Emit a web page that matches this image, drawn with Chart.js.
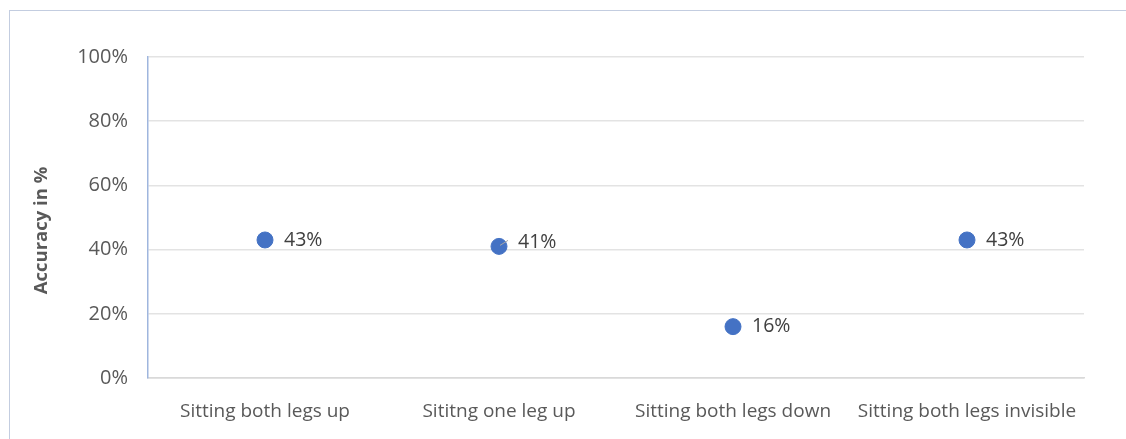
<!DOCTYPE html>
<html>
<head>
<meta charset="utf-8">
<script src="https://cdn.jsdelivr.net/npm/chart.js@4"></script>
<style>
  html, body { margin: 0; padding: 0; background: #fff; }
  #wrap { position: relative; width: 1126px; height: 439px; }
  #frame { position: absolute; left: 9px; top: 10px; right: -2px; bottom: -2px;
           border-top: 1.5px solid #c3cde0; border-left: 1.5px solid #c3cde0; }
  canvas { position: absolute; left: 0; top: 0; }
</style>
</head>
<body>
<div id="wrap">
  <div id="frame"></div>
  <canvas id="myChart" width="1126" height="439"></canvas>
</div>
<script>
const categories = ['Sitting both legs up', 'Sititng one leg up', 'Sitting both legs down', 'Sitting both legs invisible'];
const accuracy = [43, 41, 16, 43];
const yTicks = [0, 20, 40, 60, 80, 100];
const yTitle = 'Accuracy in %';

const textColor = '#595959';
const fontFamily = "'Open Sans', 'Noto Sans', sans-serif";

// value labels to the right of each point, with a short leader where the label was nudged
const pointLabels = {
    id: 'pointLabels',
    afterDatasetsDraw(chart) {
        const ctx = chart.ctx;
        const meta = chart.getDatasetMeta(0);
        ctx.save();
        ctx.font = '19.5px ' + fontFamily;
        ctx.fillStyle = '#404040';
        ctx.textBaseline = 'middle';
        meta.data.forEach((pt, i) => {
            const v = accuracy[i];
            let dy = 0;
            if (i === 1) {
                dy = -4;
                ctx.strokeStyle = '#a6a6a6';
                ctx.lineWidth = 1;
                ctx.beginPath();
                ctx.moveTo(pt.x + 1, pt.y - 1);
                ctx.lineTo(pt.x + 9, pt.y - 6);
                ctx.stroke();
            }
            ctx.fillText(v + '%', pt.x + 19, pt.y + dy);
        });
        ctx.restore();
    }
};

// rotated y-axis title, sitting a little below the plot's middle
const axisTitle = {
    id: 'axisTitle',
    afterDraw(chart) {
        const ctx = chart.ctx;
        const area = chart.chartArea;
        ctx.save();
        ctx.translate(42, (area.top + area.bottom) / 2 + 13);
        ctx.rotate(-Math.PI / 2);
        ctx.font = 'bold 18.5px ' + fontFamily;
        ctx.fillStyle = textColor;
        ctx.textAlign = 'center';
        ctx.textBaseline = 'middle';
        ctx.fillText(yTitle, 0, 0);
        ctx.restore();
    }
};

new Chart(document.getElementById('myChart'), {
    type: 'line',
    data: {
        labels: categories,
        datasets: [{
            data: accuracy,
            showLine: false,
            pointRadius: 8,
            pointHoverRadius: 8,
            pointBackgroundColor: '#4472c4',
            pointBorderColor: '#4472c4',
            pointBorderWidth: 1
        }]
    },
    options: {
        responsive: false,
        animation: false,
        layout: { padding: { left: 0, right: 42, top: 57, bottom: 0 } },
        plugins: { legend: { display: false }, tooltip: { enabled: false } },
        scales: {
            x: {
                offset: true,
                grid: { display: false },
                border: { display: true, color: '#d9d9d9', width: 1.5 },
                ticks: { color: textColor, font: { size: 19, family: fontFamily }, padding: 14, maxRotation: 0 },
                afterFit(s) { s.height = 61; }
            },
            y: {
                min: 0,
                max: 100,
                afterBuildTicks(s) { s.ticks = yTicks.map(v => ({ value: v })); },
                grid: {
                    color: (c) => c.tick && c.tick.value === 0 ? '#d9d9d9' : '#e3e3e3',
                    lineWidth: 1.5,
                    drawTicks: false
                },
                border: { display: true, color: '#9fb6de', width: 1.5 },
                ticks: {
                    color: textColor,
                    font: { size: 20, family: fontFamily },
                    padding: 20,
                    callback: (v) => v + '%'
                },
                afterFit(s) { s.width = 148; }
            }
        }
    },
    plugins: [pointLabels, axisTitle]
});
</script>
</body>
</html>
